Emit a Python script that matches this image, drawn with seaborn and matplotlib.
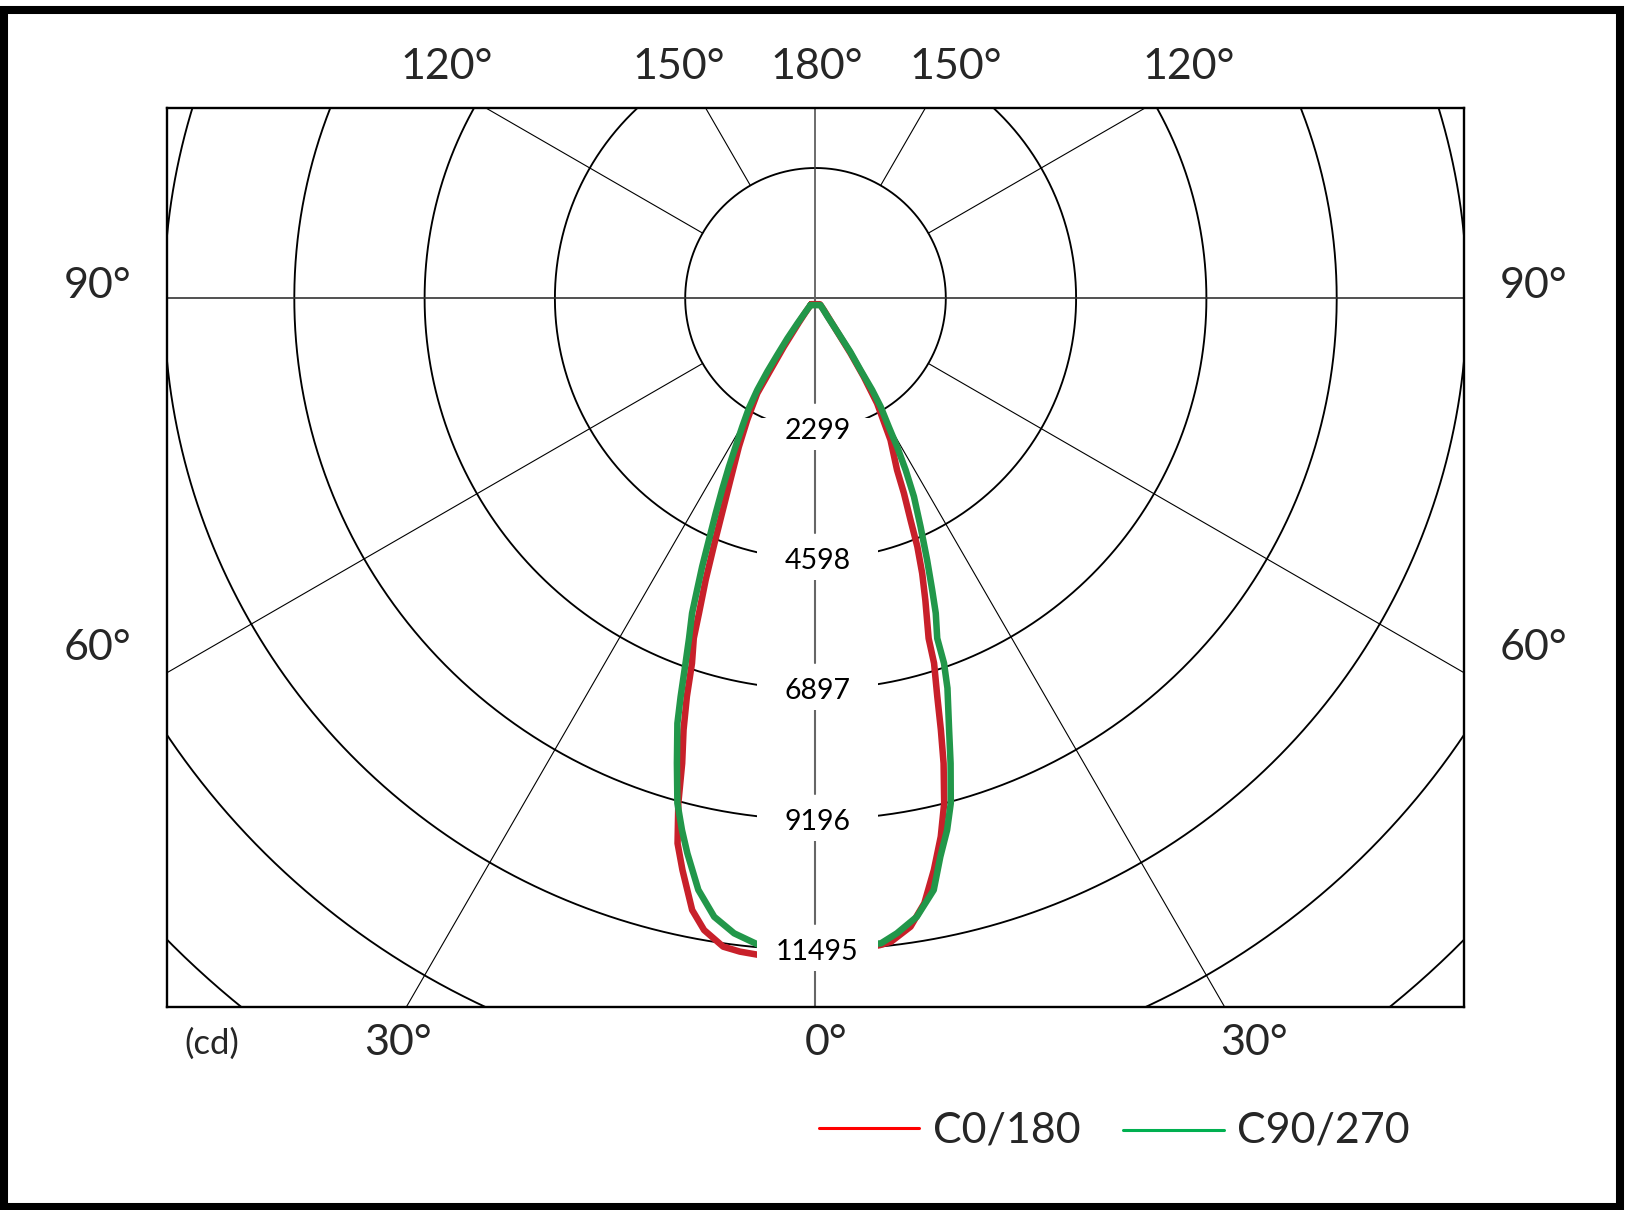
import numpy as np
import matplotlib
matplotlib.use("Agg")
import matplotlib.pyplot as plt
import seaborn as sns
from matplotlib.patches import Rectangle
from matplotlib.lines import Line2D

# ---------------- data ----------------
ring_step = 2299
ring_labels = ["2299", "4598", "6897", "9196", "11495"]
series_names = ["C0/180", "C90/270"]

top_labels = ["120°", "150°", "180°", "150°", "120°"]
side_labels = ["90°", "60°"]
bottom_labels = ["30°", "0°", "30°"]
unit_label = "(cd)"

# gamma angle (deg, negative = left half) and intensity (cd)
c0_gamma = [-36.5, -35.5, -34.5, -33.2, -32.1, -31.5, -29.3, -27.3, -25.1, -23.5,
            -22.3, -21.3, -20.3, -19.7, -18.7, -17.9, -17.0, -16.0, -15.2, -14.2,
            -13.1, -11.4, -10.0, -8.1, -6.6, -4.9, 0.0,
            5.7, 6.7, 8.6, 10.2, 11.7, 13.1, 14.3, 15.4, 16.2, 17.0, 18.0, 18.4,
            20.0, 21.2, 22.3, 23.2, 24.4, 25.4, 27.9, 30.4, 31.6, 32.5, 33.5,
            35.5, 36.5]
c0_cd = [130, 300, 514, 1021, 1494, 1967, 2463, 2948, 3539, 4136,
         4736, 5336, 5927, 6371, 6798, 7384, 7963, 8535, 9231, 9921,
         10357, 11010, 11319, 11555, 11604, 11629, 11640,
         11468, 11430, 11213, 10844, 10300, 9752, 9193, 8511, 7929, 7350, 6770, 6324,
         5666, 5205, 4736, 4256, 3777, 3354, 2829, 2149, 1625, 1150, 514,
         250, 130]

c90_gamma = [-36.5, -36.0, -35.7, -35.0, -34.0, -33.3, -32.4, -31.2, -29.7, -28.3,
             -27.2, -26.0, -24.9, -23.8, -22.9, -22.1, -21.4, -20.4, -19.6, -18.7,
             -18.0, -16.6, -15.3, -14.1, -13.0, -11.2, -9.3, -7.3, -5.0, 0.0,
             5.8, 7.3, 9.3, 11.3, 12.6, 13.9, 15.0, 16.2, 17.2, 18.7, 19.4, 19.7,
             20.9, 21.8, 23.1, 24.7, 26.4, 27.7, 28.8, 29.7, 31.0, 31.7, 32.1,
             33.0, 33.2, 33.5, 36.5]
c90_cd = [150, 363, 547, 865, 1207, 1550, 1917, 2269, 2608, 2975,
          3342, 3762, 4184, 4662, 5140, 5554, 5969, 6401, 6837, 7423,
          7885, 8559, 9235, 9672, 10050, 10641, 11058, 11296, 11455, 11495,
          11439, 11296, 11058, 10646, 10096, 9665, 9222, 8543, 7972, 7262, 6826, 6371,
          5948, 5544, 5020, 4436, 3906, 3421, 2989, 2608, 2230, 1902, 1494,
          1126, 727, 385, 150]

# ---------------- style ----------------
sns.set_style("white")
plt.rcParams["font.family"] = ["Lato", "DejaVu Sans"]

W, H = 1630, 1210
L, T, R, B = 166.7, 107.7, 1464.3, 1007.3     # plot box in pixels
cx, cy = 815.5, 298.3                          # pole in pixels
s = 130.3 / ring_step                          # px per cd

fig = plt.figure(figsize=(W / 100, H / 100), dpi=100)
fig.patch.set_facecolor("white")
ax = fig.add_axes([L / W, 1 - B / H, (R - L) / W, (B - T) / H])
ax.set_xlim((L - cx) / s, (R - cx) / s)
ax.set_ylim(-(B - cy) / s, (cy - T) / s)
ax.set_xticks([])
ax.set_yticks([])
for sp in ax.spines.values():
    sp.set_visible(True)
    sp.set_color("black")
    sp.set_linewidth(1.7)
    sp.set_zorder(10)

# concentric rings
th = np.linspace(0, 2 * np.pi, 1441)
for k in range(1, 9):
    r = k * ring_step
    ax.plot(r * np.cos(th), r * np.sin(th), color="black", lw=1.35, zorder=1)

# radial lines
for a in [30, 60, 120, 150]:
    ar = np.radians(a)
    for side in (-1, 1):
        rr = np.array([ring_step, 12 * ring_step])
        ax.plot(side * rr * np.sin(ar), -rr * np.cos(ar), color="black", lw=0.8, zorder=1)
big = 12 * ring_step
ax.plot([-big, big], [0, 0], color="#333333", lw=1.2, zorder=1.5)
ax.plot([0, 0], [0, big], color="#444444", lw=1.1, zorder=1.5)
# lower vertical axis, interrupted at the ring labels
edges = [0]
for k in range(1, len(ring_labels) + 1):
    r = k * ring_step
    edges += [r - 26 / s, r + 17 / s]
edges.append(big)
for a0, a1 in zip(edges[0::2], edges[1::2]):
    ax.plot([0, 0], [-a0, -a1], color="#666666", lw=1.5, zorder=1.5)

# photometric curves
for gam, cd, col, name in [(c0_gamma, c0_cd, "#C8202A", series_names[0]),
                           (c90_gamma, c90_cd, "#22974A", series_names[1])]:
    g = np.radians(np.r_[gam, gam[0]])
    I = np.r_[cd, cd[0]]
    sns.lineplot(x=I * np.sin(g), y=-I * np.cos(g), sort=False, estimator=None,
                 ax=ax, color=col, lw=4.7, zorder=4, legend=False,
                 solid_joinstyle="round", solid_capstyle="round")

# ring value labels with white boxes
for k, lab in enumerate(ring_labels, start=1):
    r = k * ring_step
    ax.add_patch(Rectangle(((2 - 60.5) / s, -(r + 21 / s)), 121 / s, 32 / s,
                           facecolor="white", edgecolor="none", zorder=5))
    ax.text(2 / s, -(r + 10 / s), lab, ha="center", va="baseline",
            fontsize=20.5, color="black", zorder=6)
ax.set_xlabel("")
ax.set_ylabel("")

# angle labels (figure pixel positions)
def ftext(x, y, t, **kw):
    fig.text(x / W, 1 - y / H, t, ha=kw.pop("ha", "center"), va="baseline", **kw)

for x, t in zip([447, 678.5, 817, 956, 1188.7], top_labels):
    ftext(x, 79.3, t, fontsize=31)
for y, t in zip([298.3, 660], side_labels):
    ftext(97.5, y, t, fontsize=31)
    ftext(1533.5, y, t, fontsize=31)
for x, t in zip([397.5, 826, 1253.7], bottom_labels):
    ftext(x, 1055, t, fontsize=31)
ftext(212, 1054, unit_label, fontsize=25)

# legend
fig.add_artist(Line2D([819 / W, 919 / W], [1 - 1128.3 / H] * 2, color="#FF0000", lw=2.2,
                      transform=fig.transFigure))
fig.add_artist(Line2D([1123 / W, 1224 / W], [1 - 1129.5 / H] * 2, color="#00B050", lw=2.2,
                      transform=fig.transFigure))
ftext(932.7, 1142.5, series_names[0], fontsize=31, ha="left")
ftext(1237.3, 1142.5, series_names[1], fontsize=31, ha="left")

# outer frame
fig.add_artist(Rectangle((4 / W, 1 - 1206.5 / H), (1619.5 - 4) / W, (1206.5 - 10) / H,
                         transform=fig.transFigure, fill=False, lw=5.8, ec="black"))

fig.savefig("out.png", dpi=100)
